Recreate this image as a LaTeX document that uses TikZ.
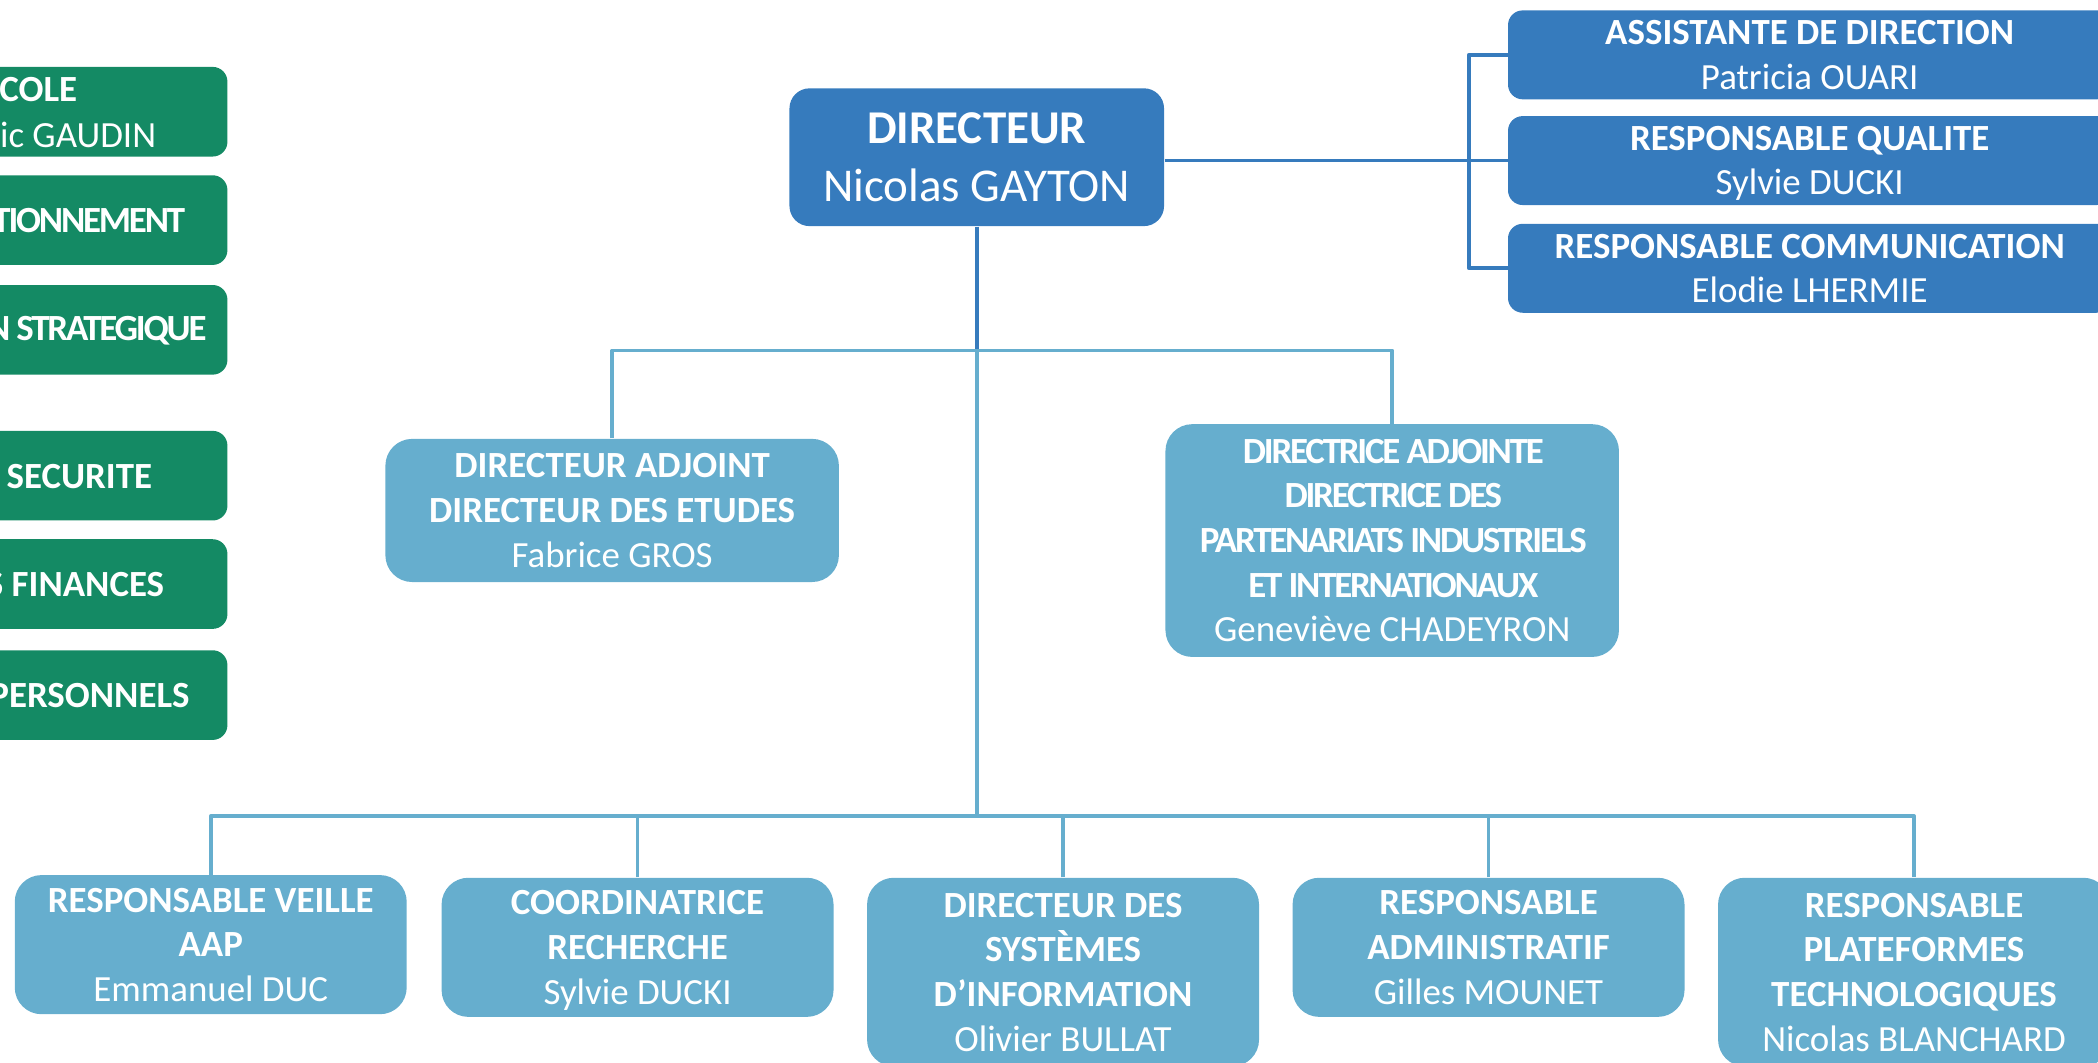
\documentclass[tikz,border=0pt]{standalone}
\usepackage{fontspec}
\setmainfont{Carlito}
\definecolor{darkblue}{RGB}{54,123,189}
\definecolor{lightblue}{RGB}{102,174,206}
\definecolor{schoolgreen}{RGB}{20,138,100}
\newcommand{\cond}{\addfontfeatures{LetterSpace=-6}}

\begin{document}
\begin{tikzpicture}[x=0.02cm, y=-0.02cm, line join=round,
		box/.style={rounded corners=0.22cm, text=white, align=center, inner sep=0pt, text depth=0pt, font=\fontsize{15.7}{19}\selectfont},
		topbox/.style={box, fill=darkblue, minimum width=9.02cm, minimum height=1.33cm},
		dirbox/.style={box, fill=darkblue, minimum width=5.6cm, minimum height=2.06cm, rounded corners=0.3cm, font=\fontsize{20}{24.5}\selectfont},
		midbox/.style={box, fill=lightblue, minimum width=6.78cm, rounded corners=0.4cm},
		botbox/.style={box, fill=lightblue, minimum width=5.86cm, rounded corners=0.4cm},
		greenbox/.style={box, fill=schoolgreen, minimum width=6cm, minimum height=1.34cm},
		greentext/.style={text=white, inner sep=0pt, font=\fontsize{15.7}{19}\selectfont},
		darkline/.style={draw=darkblue, line width=1.6pt},
		lightline/.style={draw=lightblue, line width=1.6pt}]
			\useasboundingbox (0,0) rectangle (1568,794);
			\clip (0,0) rectangle (1568,794);
			% left column, cut at the border
			\node (g1) at (20,83.5) [greenbox]{};
			\node (g2) at (20,164.5) [greenbox]{};
			\node (g3) at (20,246.5) [greenbox]{};
			\node (g4) at (20,355.5) [greenbox]{};
			\node (g5) at (20,436.5) [greenbox]{};
			\node (g6) at (20,519.5) [greenbox]{};
			\node (g1a) at (58,67) [greentext, left]{\textbf{COLE}};
			\node (g1b) at (117,101) [greentext, left]{ic GAUDIN};
			\node (g2a) at (137,165) [greentext, left]{\cond\textbf{TIONNEMENT}};
			\node (g3a) at (153,247) [greentext, left]{\cond\textbf{N STRATEGIQUE}};
			\node (g4a) at (114,356) [greentext, left]{\textbf{SECURITE}};
			\node (g5a) at (123,437) [greentext, left]{\textbf{S FINANCES}};
			\node (g6a) at (142,520) [greentext, left]{\textbf{PERSONNELS}};
			% direction
			\node (dir) at (730,117.5) [dirbox]{\textbf{DIRECTEUR}\\Nicolas GAYTON};
			\node (asst) at (1352.5,41) [topbox]{\textbf{ASSISTANTE DE DIRECTION}\\Patricia OUARI};
			\node (qual) at (1352.5,120) [topbox]{\textbf{RESPONSABLE QUALITE}\\Sylvie DUCKI};
			\node (comm) at (1352.5,200.5) [topbox]{\textbf{RESPONSABLE COMMUNICATION}\\Elodie LHERMIE};
			% adjoints
			\node (da) at (457.5,381.5) [midbox, minimum height=2.14cm]{\textbf{DIRECTEUR ADJOINT}\\\textbf{DIRECTEUR DES ETUDES}\\Fabrice GROS};
			\node (dai) at (1040.5,404) [midbox, minimum height=3.48cm]{\cond\textbf{DIRECTRICE ADJOINTE}\\\cond\textbf{DIRECTRICE DES}\\\cond\textbf{PARTENARIATS INDUSTRIELS}\\\cond\textbf{ET INTERNATIONAUX}\\Geneviève CHADEYRON};
			% responsables
			\node (veil) at (157.5,706) [botbox, minimum height=2.08cm]{\textbf{RESPONSABLE VEILLE}\\\textbf{AAP}\\Emmanuel DUC};
			\node (rech) at (476.5,708) [botbox, minimum height=2.08cm]{\textbf{COORDINATRICE}\\\textbf{RECHERCHE}\\Sylvie DUCKI};
			\node (dsi) at (794.5,726.5) [botbox, minimum height=2.82cm]{\textbf{DIRECTEUR DES}\\\textbf{SYSTÈMES}\\\textbf{D’INFORMATION}\\Olivier BULLAT};
			\node (admi) at (1112.5,708) [botbox, minimum height=2.08cm]{\textbf{RESPONSABLE}\\\textbf{ADMINISTRATIF}\\Gilles MOUNET};
			\node (plat) at (1430.5,726.5) [botbox, minimum height=2.82cm]{\textbf{RESPONSABLE}\\\textbf{PLATEFORMES}\\\textbf{TECHNOLOGIQUES}\\Nicolas BLANCHARD};
			\coordinate (bus1) at (730,262);
			\coordinate (bus2) at (730,610);
			\draw[darkline] (dir.east |- qual.west) -- (qual.west);
			\draw[darkline] (asst.west) -- ++(-29,0) |- (comm.west);
			\draw[darkline] (dir.south) -- (bus1);
			\draw[lightline] (bus1) -- (bus2);
			\draw[lightline] (da.north) |- (bus1) -| (dai.north);
			\draw[lightline] (veil.north) |- (bus2) -| (plat.north);
			\draw[lightline] (rech.north) -- (rech.north |- bus2);
			\draw[lightline] (dsi.north) -- (dsi.north |- bus2);
			\draw[lightline] (admi.north) -- (admi.north |- bus2);
\end{tikzpicture}
\end{document}
